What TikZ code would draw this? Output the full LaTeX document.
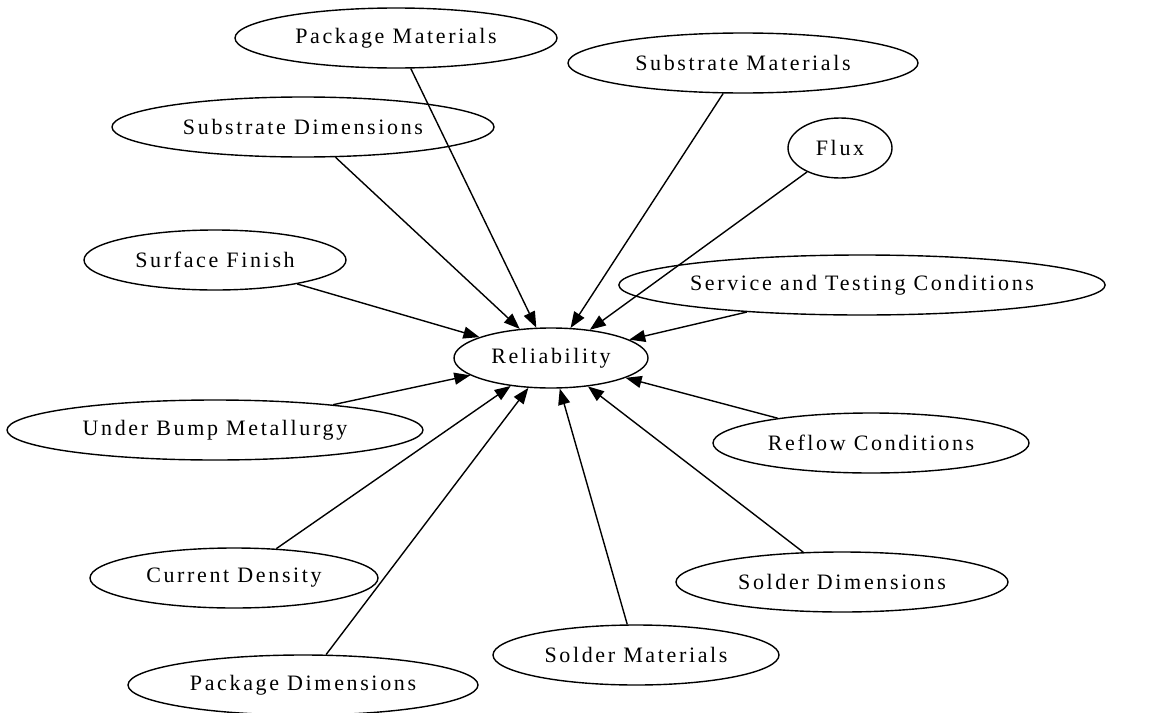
\documentclass[tikz,border=0pt]{standalone}
\usepackage{fontspec}
\setmainfont{Liberation Serif}[LetterSpace=12]
\usetikzlibrary{shapes.geometric,arrows.meta}
\begin{document}
\begin{tikzpicture}[x=1pt,y=-1pt,
  ell/.style={ellipse,draw,line width=1.4pt,inner sep=0pt,minimum height=60pt,
    font=\fontsize{22}{26}\selectfont},
  edge/.style={line width=1.4pt,-{Triangle[length=16pt,width=12pt]}}]
\useasboundingbox (0,0) rectangle (1150,712);
\node[ell,minimum width=322pt] (pm) at (396,38) {Package Materials};
\node[ell,minimum width=350pt] (sm) at (743,63) {Substrate Materials};
\node[ell,minimum width=382pt] (sd) at (303,127) {Substrate Dimensions};
\node[ell,minimum width=104pt] (fx) at (840,148) {Flux};
\node[ell,minimum width=262pt] (sf) at (215,260) {Surface Finish};
\node[ell,minimum width=474pt] (st) at (862,285) {Service and Testing Conditions};
\node[ell,minimum width=194pt] (rel) at (551,358) {Reliability};
\node[ell,minimum width=416pt] (ubm) at (215,430) {Under Bump Metallurgy};
\node[ell,minimum width=316pt] (rc) at (871,443) {Reflow Conditions};
\node[ell,minimum width=288pt] (cd) at (234,578) {Current Density};
\node[ell,minimum width=332pt] (sdim) at (842,582) {Solder Dimensions};
\node[ell,minimum width=286pt] (smat) at (636,655) {Solder Materials};
\node[ell,minimum width=350pt] (pd) at (303,685) {Package Dimensions};
\foreach \n in {pm,sm,sd,fx,sf,st,ubm,rc,cd,sdim,smat,pd}
  \draw[edge] (\n) -- (rel);
\end{tikzpicture}
\end{document}
